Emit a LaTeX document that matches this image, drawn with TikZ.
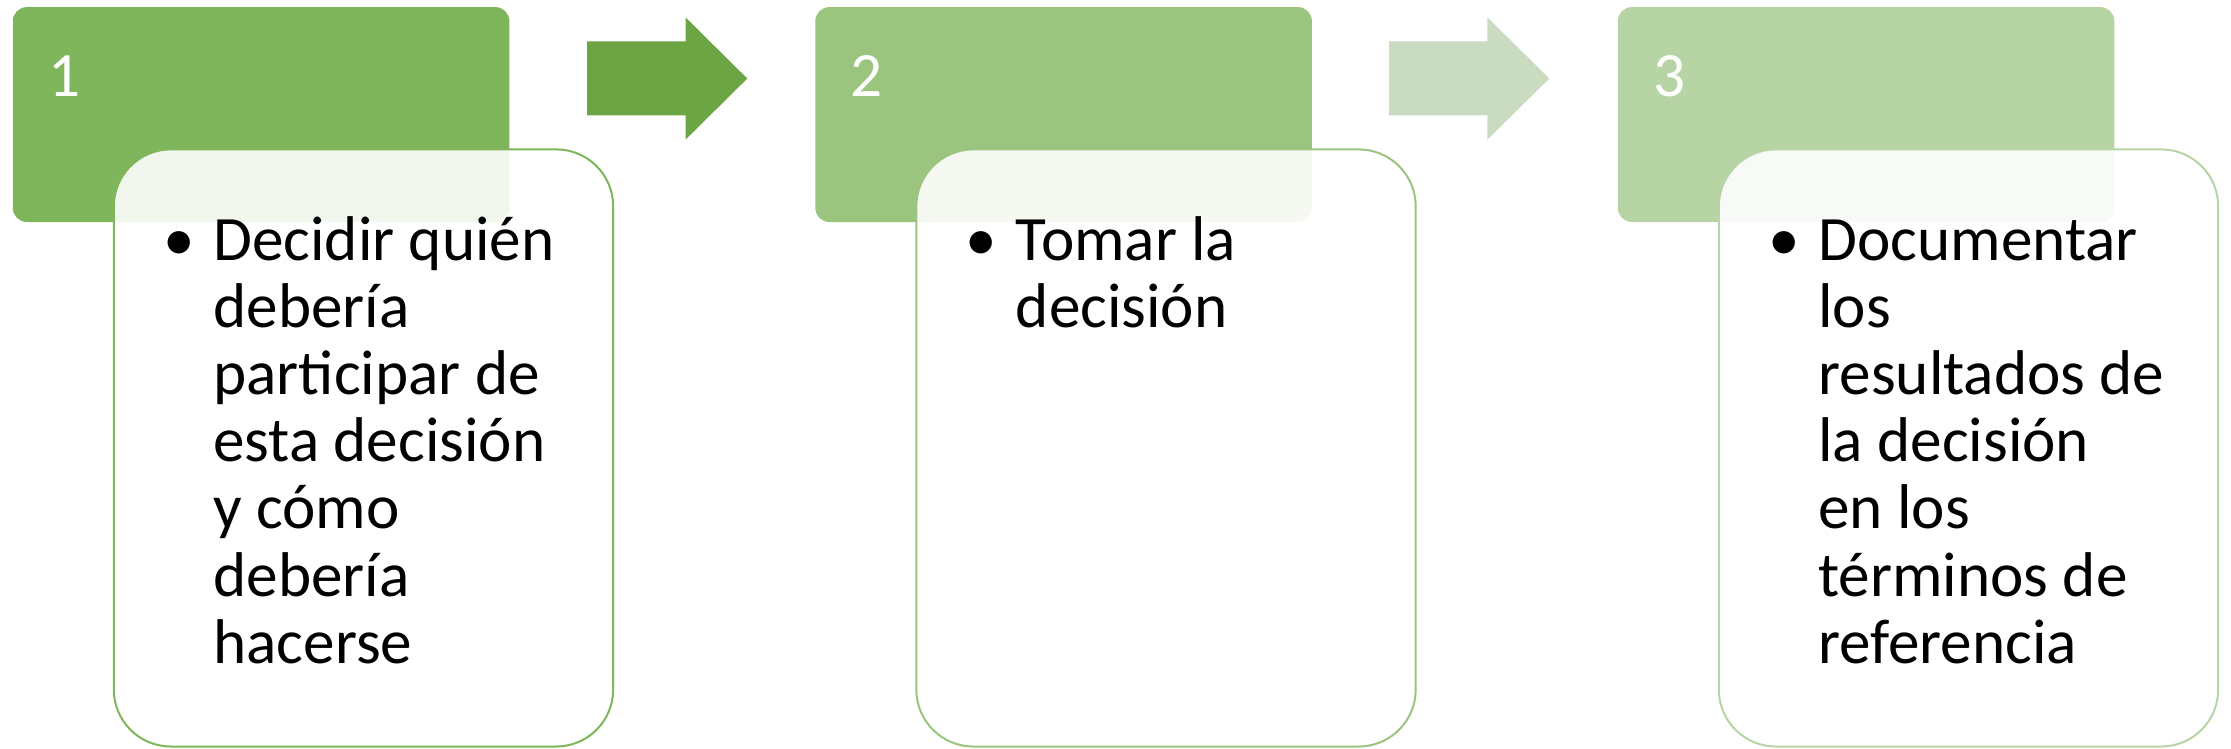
\documentclass[tikz,border=0pt]{standalone}
\usepackage{fontspec}
\setmainfont{Carlito}
\definecolor{gtopA}{HTML}{7FB55B}
\definecolor{gtopB}{HTML}{9BC57F}
\definecolor{gtopC}{HTML}{B7D5A4}
\definecolor{garrA}{HTML}{6DA544}
\definecolor{garrB}{HTML}{C9DCC1}
\newcommand\bodytext[1]{\parbox[t]{260pt}{\fontsize{31.6pt}{33.6pt}\selectfont\hangindent=25pt\hangafter=1\noindent\makebox[25pt][l]{•}#1}}
\tikzset{
  topbox/.style={rounded corners=7pt},
  lowbox/.style={rounded corners=28.5pt, fill=white, fill opacity=0.9, line width=1pt},
  numtext/.style={anchor=base west, inner sep=0pt, text=white, font=\fontsize{31.6pt}{33.6pt}\selectfont},
  bodynode/.style={anchor=base west, inner sep=0pt, text=black},
  blockarrow/.style={draw=none}
}
\begin{document}
\begin{tikzpicture}[x=0.5pt,y=-0.5pt]
\useasboundingbox (0,0) rectangle (2231,749);
% step 1
\fill[topbox, gtopA] (12.8,7.1) rectangle (509.4,222);
\node[numtext] (n1) at (48,96.7) {1};
\draw[lowbox, draw=gtopA] (113.8,149.4) rectangle (613.2,746.5);
\node[bodynode] (t1) at (163,260) {\bodytext{Decidir quién\\debería\\participar de\\esta decisión\\y cómo\\debería\\hacerse}};
% arrow 1
\fill[blockarrow, garrA] (587,41.5) -- (685.5,41.5) -- (685.5,17.3) -- (747.3,78.5) -- (685.5,139.7) -- (685.5,115.5) -- (587,115.5) -- cycle;
% step 2
\fill[topbox, gtopB] (815.3,7.1) rectangle (1311.9,222);
\node[numtext] (n2) at (850.5,96.7) {2};
\draw[lowbox, draw=gtopB] (916.3,149.4) rectangle (1415.7,746.5);
\node[bodynode] (t2) at (965.5,260) {\bodytext{Tomar la\\decisión}};
% arrow 2
\fill[blockarrow, garrB] (1389,41.5) -- (1487.3,41.5) -- (1487.3,17.3) -- (1549.3,78.5) -- (1487.3,139.7) -- (1487.3,115.5) -- (1389,115.5) -- cycle;
% step 3
\fill[topbox, gtopC] (1617.8,7.1) rectangle (2114.4,222);
\node[numtext] (n3) at (1653,96.7) {3};
\draw[lowbox, draw=gtopC] (1718.8,149.4) rectangle (2218.2,746.5);
\node[bodynode] (t3) at (1768,260) {\bodytext{Documentar\\los\\resultados de\\la decisión\\en los\\términos de\\referencia}};
\end{tikzpicture}
\end{document}
